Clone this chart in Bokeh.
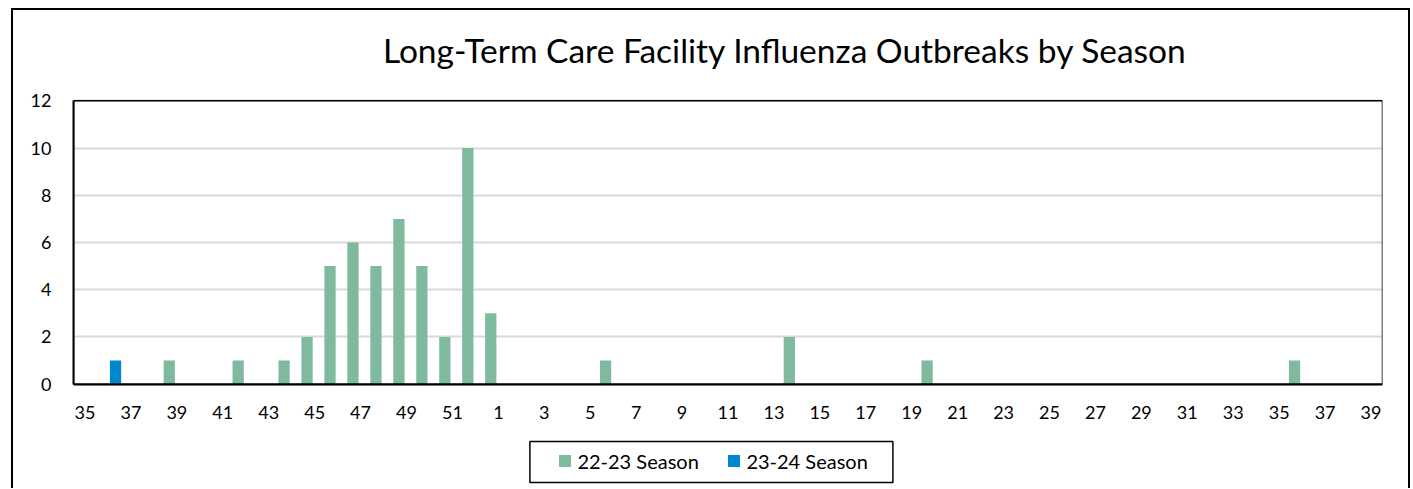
from bokeh.plotting import figure
from bokeh.models import (ColumnDataSource, FixedTicker, Legend, LegendItem,
                          Label, BoxAnnotation, LinearAxis, Range1d)
from bokeh.transform import dodge
from bokeh.embed import file_html
from bokeh.resources import INLINE

weeks = list(range(35, 53)) + list(range(1, 40))
season_22_23 = [0, 0, 0, 0, 1, 0, 0, 1, 0, 1, 2, 5, 6, 5, 7, 5, 2, 10,
                3, 0, 0, 0, 0, 1, 0, 0, 0, 0, 0, 0, 0, 2, 0, 0, 0, 0, 0, 1,
                0, 0, 0, 0, 0, 0, 0, 0, 0, 0, 0, 0, 0, 0, 0, 1, 0, 0, 0]
season_23_24 = [0, 1] + [0] * 55
series_names = ["22-23 Season", "23-24 Season"]
y_ticks = [0, 2, 4, 6, 8, 10, 12]
TITLE = "Long-Term Care Facility Influenza Outbreaks by Season"

GREEN = "#7FBA9F"
BLUE = "#0088CF"
FONT = "Lato"

# geometry (page pixels): plot area spans x 72.6..1381.6, y 100.3 (=12) .. 383.7 (=0)
X0, X1 = -0.5, len(weeks) - 0.5
Y_MAX = 12
FRAME_W, FRAME_H = 1309, 475
PX_X = FRAME_W / (X1 - X0)
PX_Y = (383.7 - 100.3) / Y_MAX
Y_TOP = Y_MAX + (100.3 - 10) / PX_Y
Y_BOT = -(485 - 383.7) / PX_Y


def px_x(px):
    return X0 + (px - 72.6) / PX_X


def px_y(py):
    return Y_MAX - (py - 100.3) / PX_Y


xs = list(range(len(weeks)))
source = ColumnDataSource(dict(x=xs, s1=season_22_23, s2=season_23_24))

p = figure(width=1395, height=478, frame_width=FRAME_W, frame_height=FRAME_H,
           x_range=Range1d(X0, X1), y_range=Range1d(Y_BOT, Y_TOP), title=None,
           x_axis_location=None, output_backend="svg", toolbar_location=None,
           min_border_left=60, min_border_right=26, min_border_top=0, min_border_bottom=3)
p.styles = {"margin-left": "11px", "margin-top": "8px",
            "border-left": "2px solid black", "border-top": "2px solid black",
            "border-right": "2px solid black"}

r1 = p.vbar(x=dodge("x", -0.33), top="s1", width=0.49, source=source,
            fill_color=GREEN, line_color=None)
r2 = p.vbar(x=dodge("x", 0.33), top="s2", width=0.49, source=source,
            fill_color=BLUE, line_color=None)

p.xgrid.visible = False
ticker_y = FixedTicker(ticks=y_ticks)
p.yaxis.ticker = ticker_y
p.ygrid.ticker = ticker_y
p.ygrid.grid_line_color = "#d9d9d9"
p.ygrid.grid_line_width = 2
p.outline_line_color = None
p.border_fill_color = "white"

xaxis = LinearAxis(fixed_location=0, ticker=FixedTicker(ticks=xs[::2]),
                   major_label_overrides={i: str(weeks[i]) for i in xs[::2]})
p.add_layout(xaxis, "below")
p.yaxis.bounds = (0, Y_MAX)
for ax in (xaxis, p.yaxis[0]):
    ax.axis_line_color = "black"
    ax.axis_line_width = 2
    ax.major_tick_line_color = None
    ax.minor_tick_line_color = None
    ax.major_tick_out = 0
    ax.minor_tick_out = 0
    ax.major_label_text_font = FONT
    ax.major_label_text_font_size = "18px"
    ax.major_label_text_color = "black"
    ax.major_label_standoff = 22

# plot-area frame (top and right edges; left/bottom are the axes)
p.add_layout(BoxAnnotation(left=X0, right=X1, bottom=0, top=Y_MAX, fill_alpha=0,
                           line_color="black", line_alpha=1, line_width=1.5))

# title
p.add_layout(Label(x=px_x(382), y=px_y(49.7), text=TITLE, text_font=FONT,
                   text_font_size="33.5px", text_color="black",
                   text_baseline="alphabetic", text_align="left"))

# legend and its box
p.add_layout(BoxAnnotation(left=px_x(529), right=px_x(892), top=px_y(441), bottom=px_y(482),
                           fill_alpha=0, line_color="black", line_alpha=1, line_width=1.5))
legend = Legend(items=[LegendItem(label=series_names[0], renderers=[r1]),
                       LegendItem(label=series_names[1], renderers=[r2])],
                orientation="horizontal", location=(557 - 72.6, 12.5),
                border_line_color=None, background_fill_alpha=0,
                padding=0, spacing=14, glyph_width=15, glyph_height=15,
                label_text_font=FONT, label_text_font_size="20px", label_text_color="black",
                label_width=135, label_standoff=5, margin=0)
p.add_layout(legend)

open("out.html", "w").write(file_html(p, INLINE))
